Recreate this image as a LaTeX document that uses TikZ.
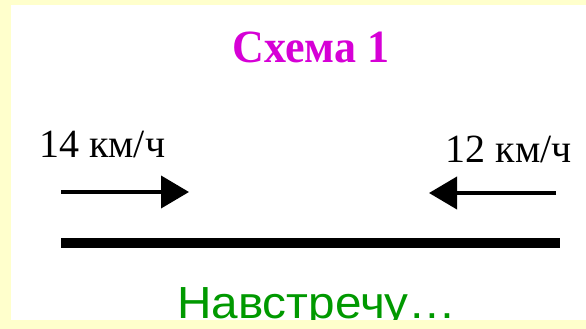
\documentclass[tikz,border=0pt]{standalone}
\usepackage{fontspec}
\setmainfont{Liberation Serif}
\newfontfamily\arialfont{Liberation Sans}
\usetikzlibrary{arrows.meta}
\definecolor{bgyellow}{RGB}{255,255,204}
\definecolor{titlemag}{RGB}{214,0,214}
\definecolor{notegreen}{RGB}{0,153,0}
\tikzset{
  titletext/.style={inner sep=0pt, anchor=base, text=titlemag, font=\fontsize{44}{48}\selectfont\bfseries, yscale=1.05},
  speedtext/.style={inner sep=0pt, text=black, font=\fontsize{40}{44}\selectfont},
  notetext/.style={inner sep=0pt, anchor=base west, text=notegreen, font=\arialfont\fontsize{45}{48}\selectfont, xscale=1.06},
  motion/.style={line width=4pt, -{Triangle[length=28pt,width=32pt]}},
  road/.style={line width=10pt}
}
\begin{document}
\begin{tikzpicture}[x=1pt,y=-1pt]
\useasboundingbox (0,0) rectangle (586,329);
\fill[bgyellow] (0,0) rectangle (586,329);
\fill[white] (11,5) rectangle (586,320);
\node[titletext] (title) at (311,63) {Схема 1};
\node[speedtext, anchor=base west] (v1) at (39,157) {14 км/ч};
\node[speedtext, anchor=base east] (v2) at (572,162) {12 км/ч};
\coordinate (a1s) at (61,192);
\coordinate (a1e) at (189,192);
\coordinate (a2s) at (556,193);
\coordinate (a2e) at (429,193);
\draw[motion] (a1s) -- (a1e);
\draw[motion] (a2s) -- (a2e);
\coordinate (r1) at (61,243);
\coordinate (r2) at (560,243);
\draw[road] (r1) -- (r2);
\node[notetext] (note) at (177,318) {Навстречу…};
\fill[bgyellow] (0,320) rectangle (586,329);
\end{tikzpicture}
\end{document}
